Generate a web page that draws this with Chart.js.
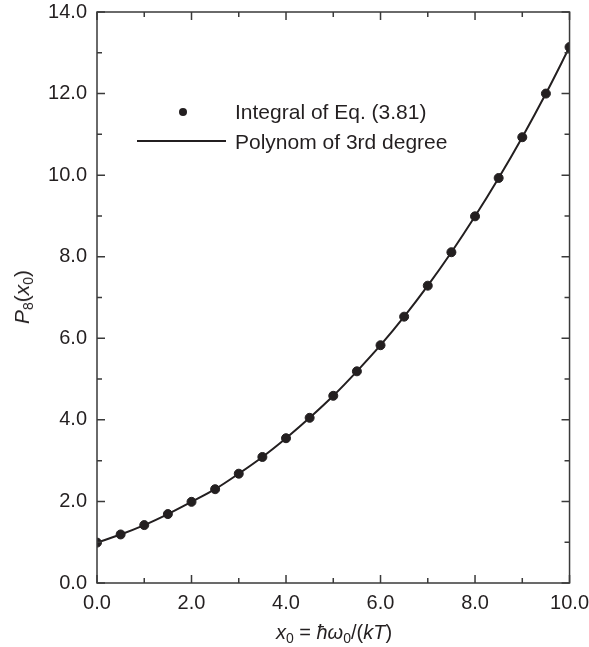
<!DOCTYPE html>
<html>
<head>
<meta charset="utf-8">
<script src="https://cdn.jsdelivr.net/npm/chart.js@4"></script>
<style>
  body { margin: 0; background: #fff; }
  #wrap { position: relative; width: 589px; height: 647px; font-family: "Liberation Sans", Arial, sans-serif; color: #231f20; }
  .ttl { position: absolute; font-size: 20px; white-space: nowrap; }
  .ttl sub { font-size: 14px; vertical-align: -4px; line-height: 0; }
  #ytitle { left: 22px; top: 297px; transform: translate(-50%, -50%) rotate(-90deg); font-size: 21px; }
  #xtitle { left: 334px; top: 632px; transform: translate(-50%, -50%); }
</style>
</head>
<body>
<div id="wrap">
  <canvas id="c" width="589" height="647"></canvas>
  <div class="ttl" id="ytitle"><i>P</i><sub>8</sub>(<i>x</i><sub>0</sub>)</div>
  <div class="ttl" id="xtitle"><i>x</i><sub>0</sub> = <i>ħω</i><sub>0</sub>/(<i>kT</i>)</div>
</div>
<script>
// x0 values and the integral values
const xValues = [0, 0.5, 1, 1.5, 2, 2.5, 3, 3.5, 4, 4.5, 5, 5.5, 6, 6.5, 7, 7.5, 8, 8.5, 9, 9.5, 10];
const integralValues = [0.99, 1.19, 1.42, 1.69, 1.99, 2.30, 2.68, 3.09, 3.55, 4.05, 4.59, 5.19, 5.83, 6.53, 7.29, 8.11, 8.99, 9.93, 10.93, 12.00, 13.14];
const polyValues = [0.99, 1.19, 1.42, 1.69, 1.99, 2.30, 2.68, 3.09, 3.55, 4.05, 4.59, 5.19, 5.83, 6.53, 7.29, 8.11, 8.99, 9.93, 10.93, 12.00, 13.14];
const legendLabels = ['Integral of Eq. (3.81)', 'Polynom of 3rd degree'];

const ink = '#231f20';
const axisInk = '#3a3a3a';
const fontFam = '"Liberation Sans", Arial, sans-serif';

// box around the plot with ticks pointing inward on all four sides
const frame = {
  id: 'frame',
  afterDraw(chart) {
    const { ctx, chartArea: a, scales } = chart;
    ctx.save();
    ctx.strokeStyle = axisInk;
    ctx.lineWidth = 1.5;
    ctx.strokeRect(a.left, a.top, a.right - a.left, a.bottom - a.top);
    ctx.beginPath();
    for (let v = 0; v <= 10; v += 1) {
      const px = scales.x.getPixelForValue(v);
      const len = v % 2 === 0 ? 8 : 5;
      ctx.moveTo(px, a.bottom); ctx.lineTo(px, a.bottom - len);
      ctx.moveTo(px, a.top); ctx.lineTo(px, a.top + len);
    }
    for (let v = 0; v <= 14; v += 1) {
      const py = scales.y.getPixelForValue(v);
      const len = v % 2 === 0 ? 8 : 5;
      ctx.moveTo(a.left, py); ctx.lineTo(a.left + len, py);
      ctx.moveTo(a.right, py); ctx.lineTo(a.right - len, py);
    }
    ctx.stroke();

    // legend
    ctx.fillStyle = ink;
    ctx.strokeStyle = ink;
    ctx.beginPath();
    ctx.arc(183, 112, 4, 0, Math.PI * 2);
    ctx.fill();
    ctx.lineWidth = 1.8;
    ctx.beginPath();
    ctx.moveTo(137, 141); ctx.lineTo(226, 141);
    ctx.stroke();
    ctx.font = '21px ' + fontFam;
    ctx.textBaseline = 'middle';
    ctx.fillText(legendLabels[0], 235, 113);
    ctx.fillText(legendLabels[1], 235, 143);
    ctx.restore();
  }
};

new Chart(document.getElementById('c'), {
  type: 'scatter',
  data: {
    datasets: [
      {
        label: legendLabels[1],
        type: 'line',
        data: xValues.map((x, i) => ({ x: x, y: polyValues[i] })),
        borderColor: ink,
        borderWidth: 2,
        pointRadius: 0,
        cubicInterpolationMode: 'monotone',
        fill: false,
        order: 2
      },
      {
        label: legendLabels[0],
        data: xValues.map((x, i) => ({ x: x, y: integralValues[i] })),
        backgroundColor: ink,
        borderColor: ink,
        pointRadius: 4.5,
        order: 1
      }
    ]
  },
  options: {
    responsive: false,
    animation: false,
    layout: { padding: { top: 0, right: 19, left: 0, bottom: 0 } },
    plugins: { legend: { display: false }, tooltip: { enabled: false } },
    scales: {
      x: {
        type: 'linear',
        min: 0, max: 10,
        grid: { display: false },
        border: { display: false },
        ticks: {
          stepSize: 2,
          color: ink,
          font: { size: 20, family: fontFam },
          padding: 0,
          maxRotation: 0,
          callback: v => v.toFixed(1)
        },
        afterFit: s => { s.height = 64; }
      },
      y: {
        min: 0, max: 14,
        grid: { display: false },
        border: { display: false },
        ticks: {
          stepSize: 2,
          color: ink,
          font: { size: 20, family: fontFam, lineHeight: 1.0 },
          padding: 2,
          callback: v => v.toFixed(1)
        },
        afterFit: s => { s.width = 97; }
      }
    }
  },
  plugins: [frame]
});
</script>
</body>
</html>
